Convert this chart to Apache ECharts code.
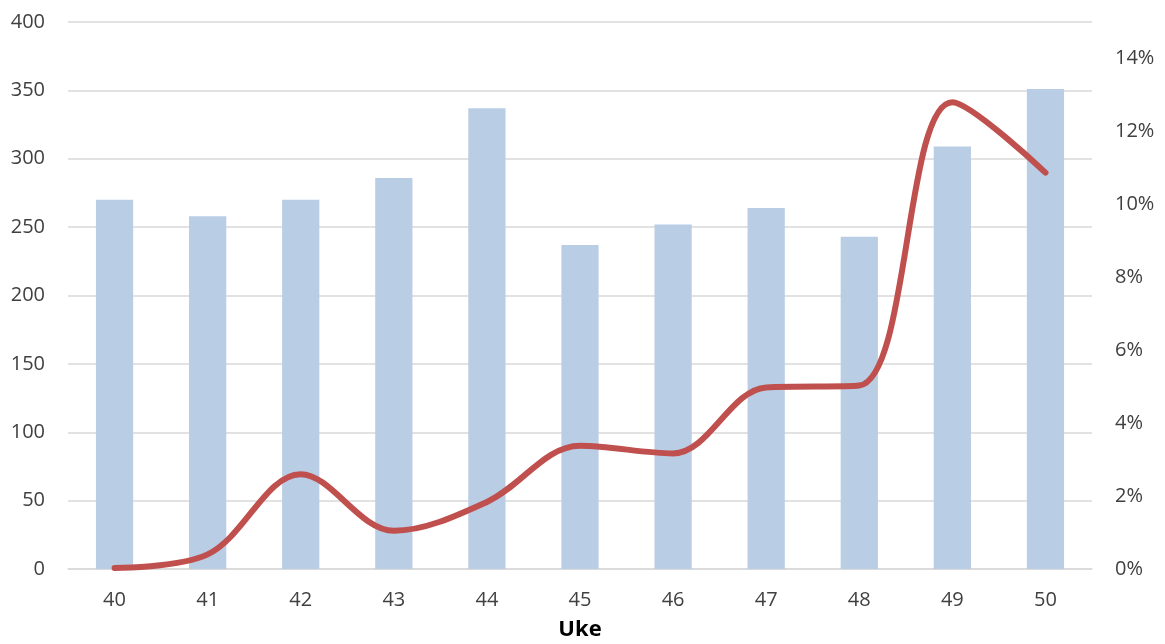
<!DOCTYPE html>
<html>
<head>
<meta charset="utf-8">
<script src="https://cdn.jsdelivr.net/npm/echarts@6/dist/echarts.min.js"></script>
<style>html,body{margin:0;padding:0;background:#fff}#c{width:1165px;height:644px}</style>
</head>
<body>
<div id="c"></div>
<script>
const weeks = ['40','41','42','43','44','45','46','47','48','49','50'];
const counts = [270, 258, 270, 286, 337, 237, 252, 264, 243, 309, 351];
const shares = [0.03, 0.4, 2.6, 1.05, 1.84, 3.38, 3.17, 4.98, 5.03, 12.8, 10.87];
const leftTicks = {min: 0, max: 400, interval: 50};
const rightTicks = {min: 0, max: 15, interval: 2};

const font = '"Open Sans", "Noto Sans", sans-serif';
const chart = echarts.init(document.getElementById('c'));
chart.setOption({
  animation: false,
  grid: {left: 68, right: 73, top: 22, bottom: 75, outerBoundsMode: 'none', containLabel: false},
  xAxis: {
    type: 'category',
    data: weeks,
    axisLine: {lineStyle: {color: '#d9d9d9', width: 1.5}},
    axisTick: {show: false},
    axisLabel: {color: '#404040', fontSize: 20, fontFamily: font, margin: 21},
    name: 'Uke',
    nameLocation: 'middle',
    nameGap: 50,
    nameTextStyle: {color: '#000', fontSize: 22, fontWeight: 'bold', fontFamily: font}
  },
  yAxis: [{
    type: 'value',
    min: leftTicks.min, max: leftTicks.max, interval: leftTicks.interval,
    axisLine: {show: false}, axisTick: {show: false},
    axisLabel: {color: '#404040', fontSize: 20, fontFamily: font, margin: 23},
    splitLine: {lineStyle: {color: '#d9d9d9', width: 1.5}}
  }, {
    type: 'value',
    min: rightTicks.min, max: rightTicks.max, interval: rightTicks.interval,
    axisLine: {show: false}, axisTick: {show: false},
    splitLine: {show: false},
    axisLabel: {color: '#404040', fontSize: 20, fontFamily: font, margin: 23,
      formatter: '{value}%', showMaxLabel: false}
  }],
  series: [{
    type: 'bar',
    data: counts,
    barWidth: '40%',
    itemStyle: {color: '#b9cde5'},
    yAxisIndex: 0
  }, {
    type: 'line',
    data: shares,
    yAxisIndex: 1,
    smooth: 0.35,
    symbol: 'none',
    lineStyle: {color: '#c0504d', width: 6, cap: 'round', join: 'round'},
    z: 3
  }]
});
</script>
</body>
</html>
